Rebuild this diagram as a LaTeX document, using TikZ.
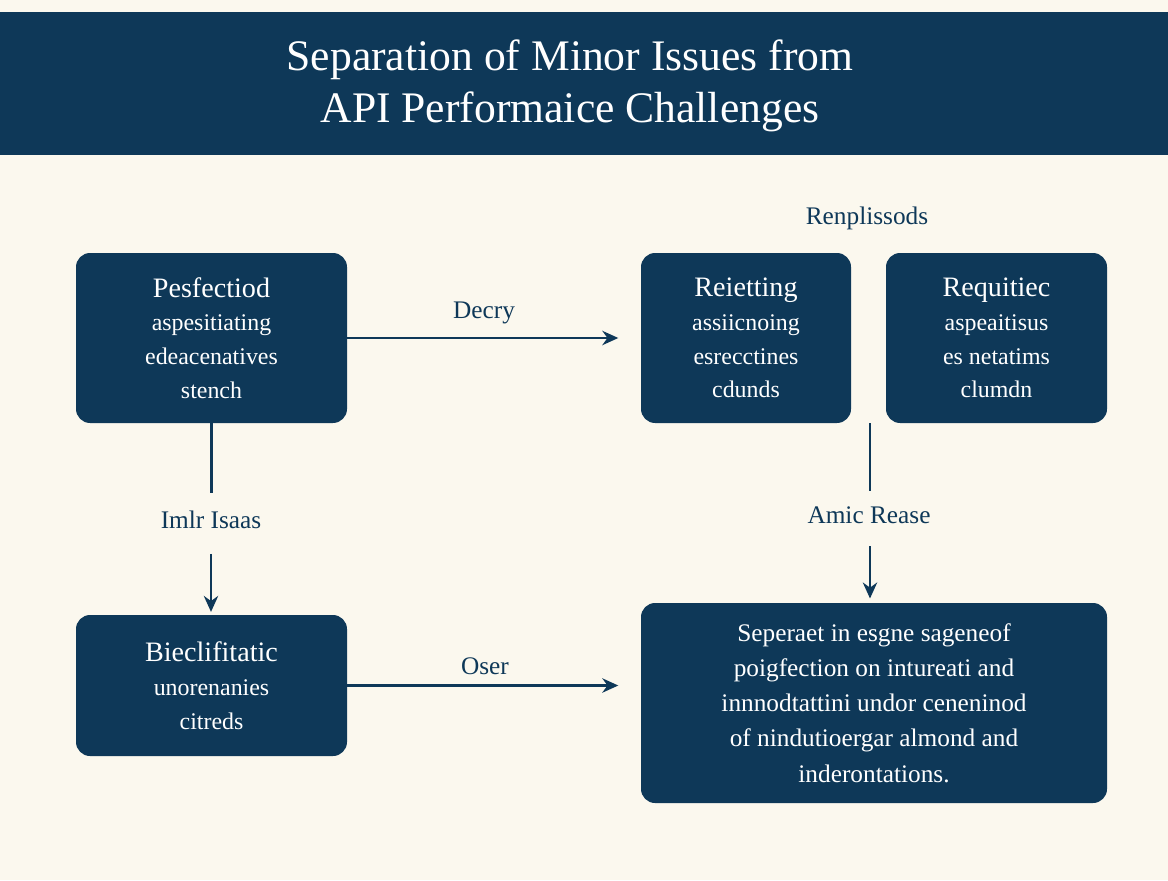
\documentclass[tikz,border=0pt]{standalone}
\usepackage{fontspec}
\setmainfont{Liberation Serif}
\usetikzlibrary{arrows.meta,positioning,calc}
\definecolor{navy}{HTML}{0E3858}
\definecolor{cream}{HTML}{FBF8EE}
\tikzset{
  box/.style={fill=navy,rounded corners=10pt,text=white,align=center,font=\fontsize{17}{24}\selectfont},
  lbl/.style={text=navy,font=\fontsize{18}{22}\selectfont},
  link/.style={navy,line width=1.5pt,-{Stealth[length=4mm,width=3.6mm]}}
}
\newcommand{\head}[1]{{\fontsize{20}{26}\selectfont #1}}
\begin{document}
\begin{tikzpicture}[x=0.025cm,y=-0.025cm]
    \fill[cream] (0,0) rectangle (1168,880);
    \useasboundingbox (0,0) rectangle (1168,880);
    \fill[navy] (0,12) rectangle (1168,155);
    \node[text=white,align=center,font=\fontsize{31}{37}\selectfont] (title) at (570,86)
        {Separation of Minor Issues from\\API Performaice Challenges};
    % boxes
    \node[box,minimum width=271*0.025cm,minimum height=170*0.025cm] (pesf) at (211.5,338)
        {\head{Pesfectiod}\\aspesitiating\\edeacenatives\\stench};
    \node[box,minimum width=210*0.025cm,minimum height=170*0.025cm] (reiet) at (746,338)
        {\head{Reietting}\\assiicnoing\\esrecctines\\cdunds};
    \node[box,minimum width=221*0.025cm,minimum height=170*0.025cm] (requi) at (996.5,338)
        {\head{Requitiec}\\aspeaitisus\\es netatims\\clumdn};
    \node[box,minimum width=271*0.025cm,minimum height=141*0.025cm] (biec) at (211.5,685.5)
        {\head{Bieclifitatic}\\unorenanies\\citreds};
    \node[box,minimum width=466*0.025cm,minimum height=200*0.025cm,font=\fontsize{18}{25}\selectfont] (seper) at (874,703)
        {Seperaet in esgne sageneof\\poigfection on intureati and\\innnodtattini undor ceneninod\\of nindutioergar almond and\\inderontations.};
    \node[lbl] (renp) at (867,218) {Renplissods};
    % labels
    \node[lbl] (decry) at (484,313) {Decry};
    \node[lbl] (oser) at (485,666) {Oser};
    \node[lbl] (imlr) at (211,520) {Imlr Isaas};
    \node[lbl] (amic) at (869,515) {Amic Rease};
    % connectors
    \draw[link] (pesf.east) -- ++(271,0) coordinate (a1);
    \draw[link] (biec.east) -- ++(271,0) coordinate (a2);
    \draw[navy,line width=1.5pt] (pesf.south) -- ++(0,70);
    \draw[link] ($(imlr.south)+(0,20)$) -- ++(0,58);
    \draw[navy,line width=1.5pt] (870,423) -- ++(0,68);
    \draw[link] ($(amic.south)+(1,18)$) -- ++(0,52);
\end{tikzpicture}
\end{document}
